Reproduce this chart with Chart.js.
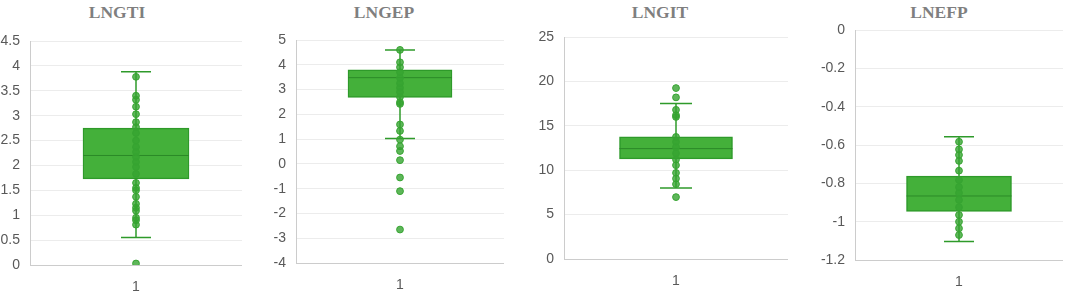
<!DOCTYPE html>
<html>
<head>
<meta charset="utf-8">
<script src="https://cdn.jsdelivr.net/npm/chart.js@4"></script>
<style>
  html, body { margin: 0; padding: 0; background: #fff; }
  #wrap { position: relative; width: 1065px; height: 293px; overflow: hidden; }
  .panel { position: absolute; top: 0; }
  .title {
    position: absolute; top: 2px; transform: translateX(-50%);
    font-family: "Liberation Serif", serif; font-weight: bold; font-size: 17.5px;
    color: #7f7f7f; white-space: nowrap;
  }
</style>
</head>
<body>
<div id="wrap"></div>
<script>
// data
const titles = ["LNGTI", "LNGEP", "LNGIT", "LNEFP"];
const categories = ["1"];

// [lower whisker, q1, median, q3, upper whisker]
const lngtiStats = [0.55, 1.73, 2.2, 2.75, 3.88];
const lngepStats = [1.02, 2.68, 3.48, 3.8, 4.6];
const lngitStats = [8.0, 11.27, 12.43, 13.75, 17.5];
const lnefpStats = [-1.103, -0.946, -0.866, -0.762, -0.557];

const lngtiPoints = [3.78, 3.4, 3.32, 3.18, 3.03, 2.87, 2.77, 2.65, 2.5, 2.37, 2.27, 2.17, 2.07, 1.97, 1.83,
  1.65, 1.55, 1.5, 1.37, 1.23, 1.15, 1.09, 0.95, 0.9, 0.81, 0.03];
const lngepPoints = [4.6, 4.1, 3.9, 3.7, 3.47, 3.25, 3.07, 2.9, 2.7, 2.49, 2.42, 1.59, 1.33, 0.98, 0.71,
  0.52, 0.15, -0.55, -1.1, -2.65];
const lngitPoints = [19.25, 18.2, 16.8, 16.2, 16.0, 13.75, 13.2, 12.6, 11.9, 11.2, 10.56, 9.7, 9.06, 8.43, 6.97];
const lnefpPoints = [-0.583, -0.623, -0.652, -0.683, -0.734, -0.783, -0.82, -0.85, -0.887, -0.925, -0.965,
  -1.0, -1.035, -1.07];

// y axis ranges / tick steps
const yMins = [0, -4, 0, -1.2];
const yMaxs = [4.5, 5, 25, 0];
const ySteps = [0.5, 1, 5, 0.2];

const allStats = [lngtiStats, lngepStats, lngitStats, lnefpStats];
const allPoints = [lngtiPoints, lngepPoints, lngitPoints, lnefpPoints];

// panel geometry (page pixels)
const layoutBoxes = [
  { left: 30, right: 242, top: 41, bottom: 265, titleX: 117, boxW: 106, capR: 15 },
  { left: 296, right: 504, top: 40, bottom: 263, titleX: 384, boxW: 104, capR: 15 },
  { left: 564, right: 788, top: 37, bottom: 259, titleX: 660, boxW: 113, capR: 16 },
  { left: 855, right: 1063, top: 30, bottom: 260, titleX: 939, boxW: 105, capR: 15 },
];

const AXIS_W = 45;
const H = 293;
const green = "#44b03a";
const darkGreen = "#2e9a2a";
const pointGreen = "#36a431";
const tickFont = { family: "Liberation Sans", size: 14 };

const wrap = document.getElementById("wrap");

layoutBoxes.forEach((b, i) => {
  const stats = allStats[i];
  const pts = allPoints[i];

  const t = document.createElement("div");
  t.className = "title";
  t.style.left = b.titleX + "px";
  t.textContent = titles[i];
  wrap.appendChild(t);

  const div = document.createElement("div");
  div.className = "panel";
  div.style.left = (b.left - AXIS_W) + "px";
  const canvas = document.createElement("canvas");
  canvas.width = b.right - b.left + AXIS_W;
  canvas.height = H;
  div.appendChild(canvas);
  wrap.appendChild(div);

  const at = (v) => ({ x: categories[0], y: v });

  new Chart(canvas, {
    data: {
      labels: categories,
      datasets: [
        {
          // whisker
          type: "line",
          data: [at(stats[0]), at(stats[4])],
          borderColor: darkGreen,
          borderWidth: 1.5,
          pointRadius: 0,
          order: 5,
        },
        {
          // whisker caps
          type: "line",
          data: [at(stats[0]), at(stats[4])],
          showLine: false,
          pointStyle: "line",
          pointRadius: b.capR,
          pointBorderWidth: 1.5,
          pointBorderColor: darkGreen,
          order: 4,
        },
        {
          // box
          type: "bar",
          data: [[stats[1], stats[3]]],
          backgroundColor: green,
          borderColor: darkGreen,
          borderWidth: 1.5,
          borderSkipped: false,
          barThickness: b.boxW,
          grouped: false,
          order: 3,
        },
        {
          // median
          type: "line",
          data: [at(stats[2])],
          showLine: false,
          pointStyle: "line",
          pointRadius: b.boxW / 2,
          pointBorderWidth: 1,
          pointBorderColor: "#2b8a28",
          order: 2,
        },
        {
          // observations
          type: "line",
          data: pts.map(at),
          showLine: false,
          pointRadius: 3.4,
          pointBorderWidth: 1,
          pointBackgroundColor: "rgba(54,164,49,0.8)",
          pointBorderColor: pointGreen,
          order: 1,
        },
      ],
    },
    options: {
      responsive: false,
      animation: false,
      events: [],
      layout: { autoPadding: false, padding: { top: b.top, right: 0, left: 0, bottom: 0 } },
      plugins: { legend: { display: false }, tooltip: { enabled: false }, title: { display: false } },
      scales: {
        x: {
          type: "category",
          offset: true,
          grid: { display: false, drawTicks: false },
          border: { color: "#cccccc", width: 1 },
          ticks: { padding: 14, color: "#595959", font: tickFont },
          afterFit: (s) => { s.height = H - b.bottom; },
        },
        y: {
          min: yMins[i],
          max: yMaxs[i],
          grid: { color: "#ececec", drawTicks: false },
          border: { color: "#cccccc", width: 1 },
          ticks: {
            stepSize: ySteps[i],
            padding: 10,
            color: "#595959",
            font: tickFont,
            callback: (v) => String(+Number(v).toFixed(2)),
          },
          afterFit: (s) => { s.width = AXIS_W; },
        },
      },
    },
  });
});
</script>
</body>
</html>
